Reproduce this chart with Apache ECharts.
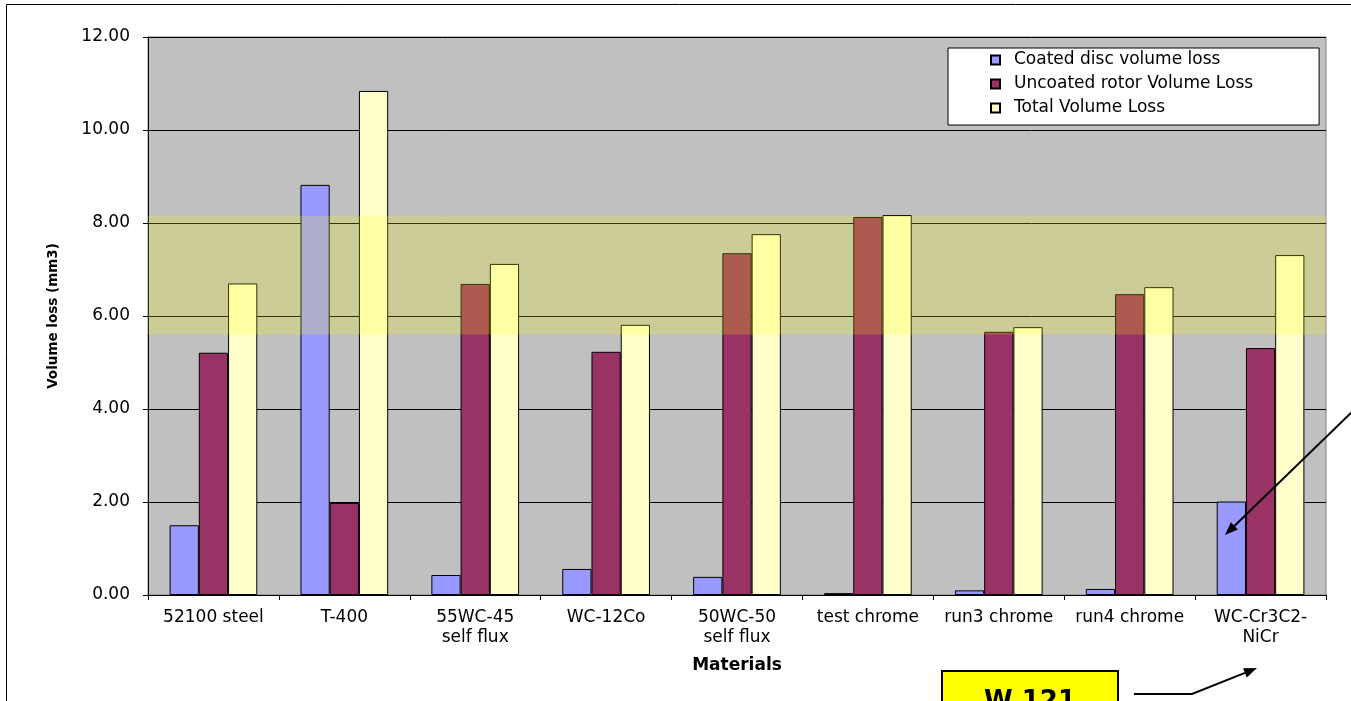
<!DOCTYPE html>
<html>
<head>
<meta charset="utf-8">
<script src="https://cdn.jsdelivr.net/npm/echarts@6/dist/echarts.min.js"></script>
<style>
  html, body { margin: 0; padding: 0; background: #fff; }
  #chart { width: 1351px; height: 701px; }
</style>
</head>
<body>
<div id="chart"></div>
<script>
const materials = [
  '52100 steel', 'T-400', '55WC-45\nself flux', 'WC-12Co', '50WC-50\nself flux',
  'test chrome', 'run3 chrome', 'run4 chrome', 'WC-Cr3C2-\nNiCr'
];
const coatedDisc = [1.50, 8.82, 0.43, 0.56, 0.39, 0.04, 0.10, 0.13, 2.01];
const uncoatedRotor = [5.21, 1.98, 6.69, 5.23, 7.35, 8.13, 5.66, 6.47, 5.31];
const totalLoss = [6.70, 10.84, 7.12, 5.81, 7.76, 8.17, 5.76, 6.62, 7.31];
const bandRange = [5.6, 8.15];

const FONT = 'DejaVu Sans';

// arrow helper for the hand-drawn annotations
function arrow(points) {
  const n = points.length;
  const [tx, ty] = points[n - 1];
  const [px, py] = points[n - 2];
  const len = Math.hypot(tx - px, ty - py);
  const ux = (tx - px) / len, uy = (ty - py) / len;
  const bx = tx - ux * 13, by = ty - uy * 13;
  const nx = -uy * 5, ny = ux * 5;
  return [
    { type: 'polyline', shape: { points: points.slice(0, n - 1).concat([[bx, by]]) },
      style: { stroke: '#000', lineWidth: 2, fill: null }, z: 20 },
    { type: 'polygon', shape: { points: [[tx, ty], [bx + nx, by + ny], [bx - nx, by - ny]] },
      style: { fill: '#000' }, z: 20 }
  ];
}

const chart = echarts.init(document.getElementById('chart'));

const barBase = {
  type: 'bar',
  barGap: '0%',
  barCategoryGap: '33%'
};

chart.setOption({
  animation: false,
  textStyle: { fontFamily: FONT },
  grid: {
    left: 148, right: 25, top: 37, bottom: 106,
    show: true, backgroundColor: '#c0c0c0', borderColor: '#808080', borderWidth: 1
  },
  legend: {
    orient: 'vertical',
    left: 948,
    top: 48,
    backgroundColor: '#fff',
    borderColor: '#000',
    borderWidth: 1,
    padding: [0, 66, 5, 42],
    itemGap: 0,
    itemWidth: 9,
    itemHeight: 9,
    icon: 'rect',
    textStyle: { fontFamily: FONT, fontSize: 17, color: '#000', lineHeight: 24, padding: [0, 0, 0, 9] },
    data: ['Coated disc volume loss', 'Uncoated rotor Volume Loss', 'Total Volume Loss']
  },
  xAxis: {
    type: 'category',
    data: materials,
    name: 'Materials',
    nameLocation: 'middle',
    nameGap: 62,
    nameTextStyle: { fontFamily: FONT, fontSize: 17, fontWeight: 'bold', color: '#000' },
    axisLine: { lineStyle: { color: '#000', width: 1 } },
    axisTick: { show: true, length: 5, lineStyle: { color: '#000' } },
    axisLabel: { color: '#000', fontFamily: FONT, fontSize: 17, lineHeight: 20, margin: 13, interval: 0 }
  },
  yAxis: {
    type: 'value',
    min: 0,
    max: 12,
    interval: 2,
    name: 'Volume loss (mm3)',
    nameLocation: 'middle',
    nameRotate: 90,
    nameGap: 88,
    nameTextStyle: { fontFamily: FONT, fontSize: 13.5, fontWeight: 'bold', color: '#000' },
    axisLine: { show: true, lineStyle: { color: '#000', width: 1 } },
    axisTick: { show: true, length: 5, lineStyle: { color: '#000' } },
    axisLabel: { color: '#000', fontFamily: FONT, fontSize: 17, margin: 18, formatter: (v) => v.toFixed(2) },
    splitLine: { lineStyle: { color: '#000', width: 1 } }
  },
  series: [
    Object.assign({}, barBase, { name: 'Coated disc volume loss', data: coatedDisc,
      itemStyle: { color: '#9999ff', borderColor: '#000', borderWidth: 1 } }),
    Object.assign({}, barBase, { name: 'Uncoated rotor Volume Loss', data: uncoatedRotor,
      itemStyle: { color: '#993366', borderColor: '#000', borderWidth: 1 } }),
    Object.assign({}, barBase, { name: 'Total Volume Loss', data: totalLoss,
      itemStyle: { color: '#ffffcc', borderColor: '#000', borderWidth: 1 },
      markArea: {
        z: 10,
        silent: true,
        itemStyle: { color: 'rgba(255,255,0,0.2)', borderWidth: 0 },
        data: [[{ yAxis: bandRange[1] }, { yAxis: bandRange[0] }]]
      } })
  ],
  graphic: [
    { type: 'rect', shape: { x: 6.5, y: 4.5, width: 1500, height: 900 },
      style: { stroke: '#000', lineWidth: 1, fill: null }, silent: true },
    { type: 'rect', shape: { x: 942, y: 671, width: 176, height: 60 },
      style: { fill: '#ffff00', stroke: '#000', lineWidth: 2 }, z: 20 },
    { type: 'text', x: 1030, y: 689, z: 21,
      style: { text: 'W 121', font: 'bold 26px "DejaVu Sans"', fill: '#000', align: 'center', verticalAlign: 'top' } }
  ]
    .concat(arrow([[1352, 412], [1225, 535]]))
    .concat(arrow([[1134, 694], [1192, 694], [1257, 668]]))
});
</script>
</body>
</html>
